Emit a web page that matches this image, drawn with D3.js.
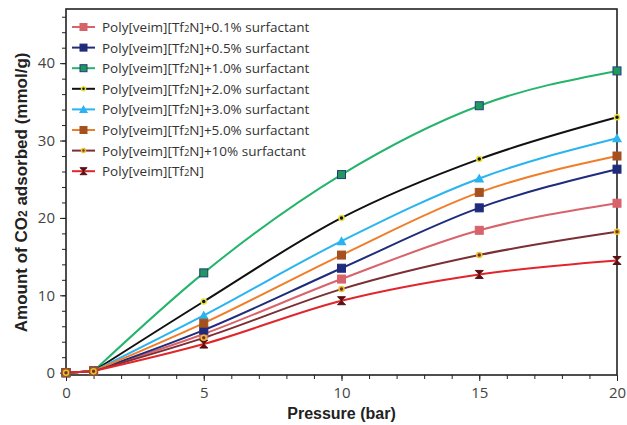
<!DOCTYPE html>
<html>
<head>
<meta charset="utf-8">
<script src="https://cdn.jsdelivr.net/npm/d3@7"></script>
<style>
  body { margin: 0; background: #fff; }
  svg { display: block; }
</style>
</head>
<body>
<div id="graphCanvas"></div>
<script>
var width = 627, height = 425;

// pressure values (bar)
var pressure = [0, 1, 5, 10, 15, 20];

var seriesNames = [
    "+0.1% surfactant", "+0.5% surfactant", "+1.0% surfactant", "+2.0% surfactant",
    "+3.0% surfactant", "+5.0% surfactant", "+10% surfactant", ""
];
var ads01 = [0, 0.2, 5.0, 12.1, 18.4, 21.9];
var ads05 = [0, 0.2, 5.5, 13.5, 21.3, 26.3];
var ads10 = [0, 0.2, 12.9, 25.6, 34.5, 39.0];
var ads20 = [0, 0.2, 9.2, 20.0, 27.6, 33.0];
var ads30 = [0, 0.2, 7.4, 17.0, 25.1, 30.3];
var ads50 = [0, 0.2, 6.4, 15.2, 23.3, 28.0];
var ads100 = [0, 0.2, 4.5, 10.8, 15.2, 18.2];
var adsPure = [0, 0.2, 3.7, 9.3, 12.7, 14.5];

var xTicks = [0, 5, 10, 15, 20];
var yTicks = [0, 10, 20, 30, 40];

var lineColors = ["#d8636b", "#1f2b7b", "#25b46b", "#111111", "#2ab4ef", "#f07d2a", "#7b2f34", "#e0262b"];
var markerKinds = ["square", "square", "square", "dot", "triangle", "square", "dot", "cross"];
var markerFill = ["#d8636b", "#1f2b7b", "#1f9a5c", "#111111", "#2ab4ef", "#a5501f", "#7b2f34", "#5a0f12"];
var markerStroke = ["#d8636b", "#1f2b7b", "#243a80", "#e8e23a", "#2ab4ef", "#a5501f", "#e8c62a", "#5a0f12"];

var allSeries = [ads01, ads05, ads10, ads20, ads30, ads50, ads100, adsPure];

var x = d3.scaleLinear().domain([0, 20]).range([66, 617]);
var y = d3.scaleLinear().domain([-0.3, 47]).range([375, 9]);

var svg = d3.select("#graphCanvas").append("svg").attr("width", width).attr("height", height);

// frame
svg.append("rect")
    .attr("x", x(0)).attr("y", y(47))
    .attr("width", x(20) - x(0)).attr("height", y(-0.3) - y(47))
    .attr("fill", "none").attr("stroke", "#222").attr("stroke-width", 1.6);

// minor ticks
var xAxis = d3.axisBottom(x).tickValues(d3.range(0, 21, 1)).tickSize(4).tickFormat("");
svg.append("g").attr("transform", "translate(0," + y(-0.3) + ")").call(xAxis)
    .call(function(g) { g.select(".domain").remove(); g.selectAll("line").attr("stroke", "#222"); });
var yAxis = d3.axisLeft(y).tickValues(d3.range(2, 47, 2)).tickSize(4).tickFormat("");
svg.append("g").attr("transform", "translate(" + x(0) + ",0)").call(yAxis)
    .call(function(g) { g.select(".domain").remove(); g.selectAll("line").attr("stroke", "#222"); });

// major ticks + labels
var xMajor = d3.axisBottom(x).tickValues(xTicks).tickSize(6).tickPadding(6);
svg.append("g").attr("transform", "translate(0," + y(-0.3) + ")").call(xMajor)
    .call(function(g) {
        g.select(".domain").remove();
        g.selectAll("line").attr("stroke", "#222");
        g.selectAll("text").attr("fill", "#444").style("font-family", "'Open Sans', sans-serif").style("font-size", "15px");
    });
var yMajor = d3.axisLeft(y).tickValues(yTicks).tickSize(6).tickPadding(5);
svg.append("g").attr("transform", "translate(" + x(0) + ",0)").call(yMajor)
    .call(function(g) {
        g.select(".domain").remove();
        g.selectAll("line").attr("stroke", "#222");
        g.selectAll("text").attr("fill", "#444").style("font-family", "'Open Sans', sans-serif").style("font-size", "15px");
    });

// axis titles
svg.append("text").attr("x", x(10)).attr("y", 419).attr("text-anchor", "middle")
    .style("font-family", "'Liberation Sans Narrow', 'Arial Narrow', 'Liberation Sans', sans-serif")
    .style("font-weight", "bold").style("font-size", "16px").attr("fill", "#222")
    .text("Pressure (bar)");

var yt = svg.append("text").attr("transform", "translate(27," + y(23.3) + ") rotate(-90)")
    .attr("text-anchor", "middle")
    .style("font-family", "'Liberation Sans Narrow', 'Arial Narrow', 'Liberation Sans', sans-serif")
    .style("font-weight", "bold").style("font-size", "17px").attr("fill", "#222");
yt.append("tspan").text("Amount of CO");
yt.append("tspan").attr("font-size", "12px").text("2");
yt.append("tspan").text(" adsorbed (mmol/g)");

// curves: straight up to 1 bar, smooth after
var flat = d3.line()
    .x(function(d, i) { return x(pressure[i]); })
    .y(function(d) { return y(d); });
var smooth = d3.line()
    .x(function(d, i) { return x(pressure[i + 1]); })
    .y(function(d) { return y(d); })
    .curve(d3.curveMonotoneX);

var plot = svg.append("g");

function drawMarker(g, kind, cx, cy, i, s) {
    if (kind == "square") {
        g.append("rect").attr("x", cx - s).attr("y", cy - s).attr("width", 2 * s).attr("height", 2 * s)
            .attr("fill", markerFill[i]).attr("stroke", markerStroke[i]).attr("stroke-width", 1);
    } else if (kind == "dot") {
        g.append("circle").attr("cx", cx).attr("cy", cy).attr("r", s - 0.5)
            .attr("fill", markerFill[i]).attr("stroke", markerStroke[i]).attr("stroke-width", 1.5);
    } else if (kind == "triangle") {
        g.append("path").attr("d", "M" + cx + "," + (cy - s - 1) + "L" + (cx + s + 1) + "," + (cy + s) + "L" + (cx - s - 1) + "," + (cy + s) + "Z")
            .attr("fill", markerFill[i]);
    } else {
        g.append("path").attr("d", "M" + (cx - s) + "," + (cy - s) + "L" + (cx + s) + "," + (cy - s) + "L" + (cx - s) + "," + (cy + s) + "L" + (cx + s) + "," + (cy + s) + "Z")
            .attr("fill", markerFill[i]).attr("stroke", markerFill[i]).attr("stroke-width", 1);
    }
}

allSeries.forEach(function(vals, i) {
    plot.append("path").datum(vals.slice(0, 2)).attr("d", flat)
        .attr("fill", "none").attr("stroke", lineColors[i]).attr("stroke-width", 2);
    plot.append("path").datum(vals.slice(1)).attr("d", smooth)
        .attr("fill", "none").attr("stroke", lineColors[i]).attr("stroke-width", 2);
});
// markers: pure first so the 10% dots sit on top
var order = [7, 0, 1, 2, 3, 4, 5, 6];
order.forEach(function(i) {
    var s = (i == 3 || i == 6) ? 3 : 4;
    allSeries[i].forEach(function(v, j) {
        drawMarker(plot, markerKinds[i], x(pressure[j]), y(v), i, s);
    });
});

// legend
var legend = svg.append("g");
seriesNames.forEach(function(name, i) {
    var ly = 27 + i * 20.6;
    legend.append("line").attr("x1", 72).attr("x2", 95).attr("y1", ly).attr("y2", ly)
        .attr("stroke", lineColors[i]).attr("stroke-width", 2);
    drawMarker(legend, markerKinds[i], 83.5, ly, i, (i == 3 || i == 6) ? 2.5 : 3.5);
    var t = legend.append("text").attr("x", 102).attr("y", ly + 5)
        .style("font-family", "'Open Sans', sans-serif").style("font-size", "13.5px").attr("fill", "#333");
    t.append("tspan").text("Poly[veim][Tf");
    t.append("tspan").attr("font-size", "9.5px").text("2");
    t.append("tspan").text("N]" + name);
});
</script>
</body>
</html>
